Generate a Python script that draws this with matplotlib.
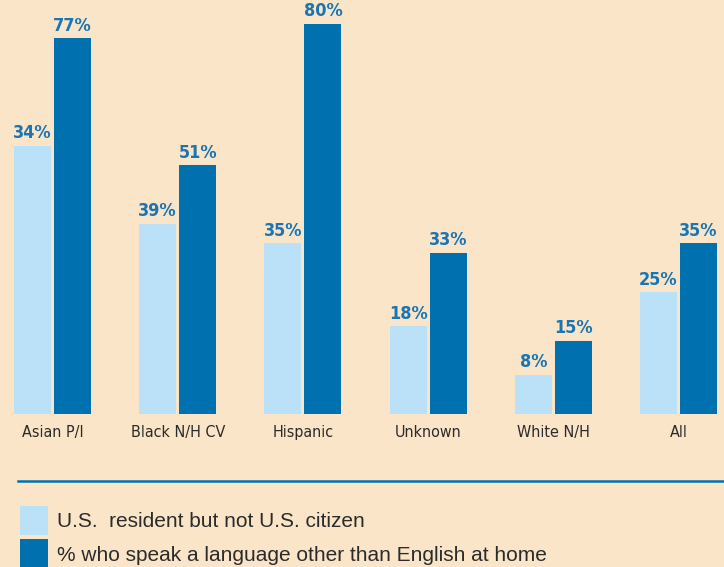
import matplotlib.pyplot as plt
from matplotlib.patches import Patch
from matplotlib.lines import Line2D
import numpy as np

# data
categories = ["Asian P/I", "Black N/H CV", "Hispanic", "Unknown", "White N/H", "All"]
resident_labels = [34, 39, 35, 18, 8, 25]
resident_heights = [55, 39, 35, 18, 8, 25]   # as drawn (Asian bar is taller than its label)
language = [77, 51, 80, 33, 15, 35]
series_names = ["U.S.  resident but not U.S. citizen",
                "% who speak a language other than English at home"]

BG = "#FAE5C8"
LIGHT = "#BAE1F7"
DARK = "#0070AE"
LABEL = "#1B75B2"
TEXT = "#2b2b2b"

W, H = 724, 567
fig = plt.figure(figsize=(W / 100, H / 100), dpi=100, facecolor=BG)

# axes in pixel terms: baseline at y=414, groups every ~125px
base = 414
ax = fig.add_axes([0, (H - base) / H, 1, base / H])
ax.set_facecolor(BG)
step = 125.2
c0 = 52.5
ax.set_xlim(-c0 / step, (W - c0) / step)
ax.set_ylim(0, base / 4.88)

x = np.arange(len(categories))
bw = 37 / step
off = 20 / step
ax.bar(x - off, resident_heights, bw, color=LIGHT)
ax.bar(x + off, language, bw, color=DARK)

val_font = dict(fontsize=13, fontweight="bold", color=LABEL,
                family="DejaVu Sans", fontstretch="condensed")
for xi, h, lab in zip(x - off, resident_heights, resident_labels):
    ax.annotate(f"{lab}%", (xi, h), xytext=(0, 2.5), textcoords="offset points",
                ha="center", va="bottom", **val_font)
for xi, v in zip(x + off, language):
    ax.annotate(f"{v}%", (xi, v), xytext=(0, 2.5), textcoords="offset points",
                ha="center", va="bottom", **val_font)

ax.set_xticks(x)
ax.set_xticklabels(categories, fontsize=11.5, color=TEXT,
                   family="DejaVu Sans", fontstretch="condensed")
ax.tick_params(axis="x", length=0, pad=8)
ax.set_yticks([])
for s in ax.spines.values():
    s.set_visible(False)

# rule above the legend
fig.add_artist(Line2D([18 / W, 1], [1 - 481 / H, 1 - 481 / H], color=DARK, lw=1.8))

handles = [Patch(facecolor=LIGHT, edgecolor="none"), Patch(facecolor=DARK, edgecolor="none")]
fig.legend(handles, series_names, loc="upper left", bbox_to_anchor=(20 / W, 1 - 506 / H),
           frameon=False, borderpad=0, borderaxespad=0,
           handlelength=1.33, handleheight=1.75, handletextpad=0.45, labelspacing=0.22,
           prop={"family": "Liberation Sans", "size": 15}, labelcolor=TEXT)

fig.savefig("out.png", dpi=100, facecolor=BG)
